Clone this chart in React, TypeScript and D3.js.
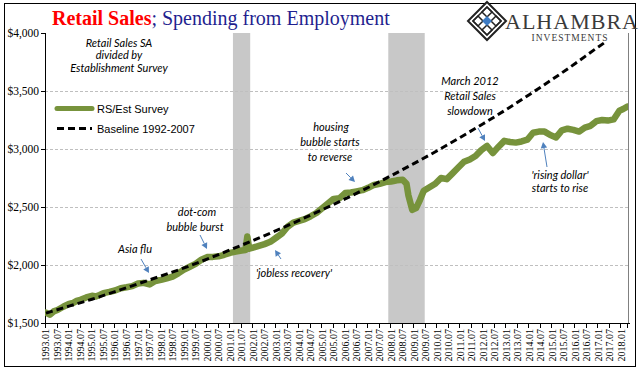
import React from "react";
import * as d3 from "d3";

// ---------- DATA ----------
const firstMonth = "1993.01";
const lastMonth = "2018.04";

const salesDates = [
  "1993.01","1993.03","1993.05","1993.07","1993.10","1994.01","1994.03","1994.05","1994.07","1994.10",
  "1995.01","1995.03","1995.05","1995.07","1995.10","1996.01","1996.04","1996.07","1996.10",
  "1997.01","1997.04","1997.07","1997.10","1998.01","1998.04","1998.07","1998.10",
  "1999.01","1999.04","1999.07","1999.10","2000.01","2000.04","2000.07","2000.10",
  "2001.01","2001.04","2001.07","2001.09","2001.10","2001.11","2002.01","2002.04",
  "2002.07","2002.10","2003.01","2003.04","2003.07","2003.10","2004.01","2004.04",
  "2004.07","2004.10","2005.01","2005.04","2005.07","2005.10","2006.01","2006.04",
  "2006.07","2006.10","2007.01","2007.04","2007.07","2007.10","2008.01","2008.04",
  "2008.07","2008.09","2008.10","2008.12","2009.02","2009.04","2009.06","2009.09",
  "2009.12","2010.03","2010.06","2010.09","2010.12","2011.03","2011.06","2011.09",
  "2011.12","2012.03","2012.06","2012.09","2012.12","2013.03","2013.06","2013.09",
  "2013.12","2014.03","2014.06","2014.09","2014.12","2015.03","2015.06","2015.09",
  "2015.12","2016.03","2016.06","2016.09","2016.12","2017.03","2017.06","2017.09",
  "2017.12","2018.02","2018.04"
];
const salesValues = [
  1590,1572,1600,1612,1640,1665,1672,1690,1700,1720,
  1735,1728,1742,1758,1768,1780,1800,1808,1818,
  1840,1846,1832,1862,1872,1885,1900,1928,
  1960,1985,2010,2045,2068,2070,2075,2088,
  2105,2115,2125,2130,2245,2140,2150,2165,
  2180,2200,2235,2270,2330,2365,2380,2395,
  2420,2448,2490,2530,2570,2575,2620,2625,
  2635,2645,2665,2690,2700,2715,2720,2730,
  2735,2700,2600,2475,2490,2560,2640,2670,
  2700,2750,2740,2790,2840,2890,2910,2940,
  2990,3026,2965,3020,3070,3060,3055,3065,
  3080,3140,3150,3150,3120,3100,3160,3175,
  3165,3150,3185,3200,3240,3250,3245,3255,
  3330,3345,3365
];

const baselineDates = [
  "1993.01","1994.01","1995.01","1996.01","1997.01","1998.01","1999.01","2000.01",
  "2001.01","2002.01","2003.01","2004.01","2005.01","2006.01","2007.01","2008.01",
  "2009.01","2010.01","2011.01","2012.01","2013.01","2014.01","2015.01","2016.01",
  "2017.01","2017.05"
];
const baselineValues = [
  1585,1645,1705,1770,1838,1905,1975,2050,
  2130,2212,2296,2385,2476,2570,2668,2770,
  2876,2985,3100,3218,3340,3468,3600,3737,
  3880,3925
];

const recessionStarts = ["2001.03", "2007.12"];
const recessionEnds = ["2001.11", "2009.06"];

const yTicks = [1500, 2000, 2500, 3000, 3500, 4000];
const gridValues = [2000, 2500, 3000, 3500];

const xTickLabels = [
  "1993.01","1993.07","1994.01","1994.07","1995.01","1995.07","1996.01","1996.07",
  "1997.01","1997.07","1998.01","1998.07","1999.01","1999.07","2000.01","2000.07",
  "2001.01","2001.07","2002.01","2002.07","2003.01","2003.07","2004.01","2004.07",
  "2005.01","2005.07","2006.01","2006.07","2007.01","2007.07","2008.01","2008.07",
  "2009.01","2009.07","2010.01","2010.07","2011.01","2011.07","2012.01","2012.07",
  "2013.01","2013.07","2014.01","2014.07","2015.01","2015.07","2016.01","2016.07",
  "2017.01","2017.07","2018.01"
];

// ---------- HELPERS ----------
const monthIndex = (s: string) => {
  const [yy, m] = s.split(".").map(Number);
  const [y0, m0] = firstMonth.split(".").map(Number);
  return (yy - y0) * 12 + (m - m0);
};

const W = 641, H = 375;
const plotLeft = 45, plotRight = 628, plotTop = 33, plotBottom = 323;
const nCats = monthIndex(lastMonth) + 1;

const x = d3.scaleLinear().domain([0, nCats]).range([plotLeft, plotRight]);
const y = d3.scaleLinear().domain([1500, 4000]).range([plotBottom, plotTop]);
const cx = (s: string) => x(monthIndex(s) + 0.5);

const salesLine = d3.line<number>()
  .x((_, i) => cx(salesDates[i]))
  .y((v) => y(v))
  .curve(d3.curveLinear);

const baseLine = d3.line<number>()
  .x((_, i) => cx(baselineDates[i]))
  .y((v) => y(v))
  .curve(d3.curveMonotoneX);

const fmt = (v: number) => "$" + d3.format(",")(v);

const annoFont = "Lato, 'Open Sans', sans-serif";
const arrowColor = "#4F81BD";

type Arrow = { x1: number; y1: number; x2: number; y2: number };
const arrows: Arrow[] = [
  { x1: 141, y1: 259, x2: 149, y2: 273 },
  { x1: 200, y1: 235, x2: 207, y2: 249 },
  { x1: 281, y1: 259, x2: 275, y2: 250 },
  { x1: 346, y1: 173, x2: 355, y2: 182 },
  { x1: 478, y1: 128, x2: 485, y2: 141 },
  { x1: 547, y1: 167, x2: 543, y2: 142 },
];

function ArrowMark({ a }: { a: Arrow }) {
  const ang = Math.atan2(a.y2 - a.y1, a.x2 - a.x1);
  const L = 6, Wd = 3.2;
  const bx = a.x2 - L * Math.cos(ang), by = a.y2 - L * Math.sin(ang);
  const px = -Math.sin(ang) * Wd, py = Math.cos(ang) * Wd;
  return (
    <g>
      <line x1={a.x1} y1={a.y1} x2={bx} y2={by} stroke={arrowColor} strokeWidth={1} />
      <path d={`M${a.x2},${a.y2} L${bx + px},${by + py} L${bx - px},${by - py} Z`} fill={arrowColor} />
    </g>
  );
}

function Logo() {
  const cx0 = 487, cy0 = 21;
  const r = 19;
  const d = (s: number, dx = 0, dy = 0) =>
    `M${cx0 + dx},${cy0 + dy - s} L${cx0 + dx + s},${cy0 + dy} L${cx0 + dx},${cy0 + dy + s} L${cx0 + dx - s},${cy0 + dy} Z`;
  return (
    <g>
      <path d={d(r)} fill="white" stroke="#222" strokeWidth={2} />
      <path d={d(r - 5)} fill="none" stroke="#222" strokeWidth={1.5} />
      <path d={d(5, 0, -9)} fill="none" stroke="#222" strokeWidth={1.5} />
      <path d={d(5, 0, 9)} fill="none" stroke="#222" strokeWidth={1.5} />
      <path d={d(5, -9, 0)} fill="none" stroke="#222" strokeWidth={1.5} />
      <path d={d(5, 9, 0)} fill="none" stroke="#222" strokeWidth={1.5} />
      <path d={d(5)} fill="#3E7CC4" stroke="none" />
      <text x={572} y={29} fontFamily="'Liberation Serif', serif" fontSize={22} fill="#3a3a3a"
        textAnchor="middle" letterSpacing={1}>ALHAMBRA</text>
      <text x={570} y={41} fontFamily="'Liberation Serif', serif" fontSize={9.5} fill="#3a3a3a"
        textAnchor="middle" letterSpacing={1}>INVESTMENTS</text>
    </g>
  );
}

export default function App() {
  return (
    <svg width={W} height={H} style={{ display: "block", position: "absolute", left: 0, top: 0 }}>
      <rect x={0} y={0} width={W} height={H} fill="white" />
      <defs>
        <clipPath id="plotClip">
          <rect x={plotLeft} y={plotTop} width={plotRight - plotLeft} height={plotBottom - plotTop} />
        </clipPath>
      </defs>

      {/* outer frame */}
      <rect x={4.5} y={3.5} width={631} height={363} fill="none" stroke="#000" strokeWidth={1} />

      {/* title */}
      <text x={52} y={25} fontFamily="'Liberation Serif', 'Times New Roman', serif" fontSize={20}>
        <tspan fill="#FF0000" fontWeight="bold">Retail Sales</tspan>
        <tspan fill="#1F1F8F">; Spending from Employment</tspan>
      </text>

      {/* recession shading */}
      {recessionStarts.map((s, i) => (
        <rect key={s} x={x(monthIndex(s))} y={plotTop}
          width={x(monthIndex(recessionEnds[i]) + 1) - x(monthIndex(s))}
          height={plotBottom - plotTop} fill="#C8C8C8" />
      ))}

      {/* gridlines */}
      {gridValues.map((v) => (
        <line key={v} x1={plotLeft} x2={plotRight} y1={y(v) + 0.5} y2={y(v) + 0.5}
          stroke="#BFBFBF" strokeWidth={1} strokeDasharray="3,2" />
      ))}

      {/* plot right border */}
      <line x1={plotRight + 0.5} x2={plotRight + 0.5} y1={plotTop} y2={plotBottom} stroke="#808080" strokeWidth={1} />

      {/* y axis */}
      <line x1={plotLeft + 0.5} x2={plotLeft + 0.5} y1={plotTop} y2={plotBottom} stroke="#000" />
      {yTicks.map((v) => (
        <g key={v}>
          <line x1={plotLeft - 4} x2={plotLeft} y1={y(v) + 0.5} y2={y(v) + 0.5} stroke="#000" />
          <text x={plotLeft - 6} y={y(v) + 4} textAnchor="end"
            fontFamily="'Liberation Serif', serif" fontSize={11.5} fill="#000">{fmt(v)}</text>
        </g>
      ))}

      {/* x axis */}
      <line x1={plotLeft} x2={plotRight + 2} y1={plotBottom + 0.5} y2={plotBottom + 0.5} stroke="#000" />
      {xTickLabels.map((lab) => {
        const tx = Math.round(x(monthIndex(lab))) + 0.5;
        const lx = cx(lab);
        return (
          <g key={lab}>
            <line x1={tx} x2={tx} y1={plotBottom} y2={plotBottom + 5} stroke="#000" />
            <text transform={`translate(${lx + 3.5},${plotBottom + 6}) rotate(-90)`} textAnchor="end"
              fontFamily="'Liberation Serif', serif" fontSize={10} fill="#000">{lab}</text>
          </g>
        );
      })}
      <line x1={Math.round(x(monthIndex(lastMonth) + 1)) - 0.5} x2={Math.round(x(monthIndex(lastMonth) + 1)) - 0.5}
        y1={plotBottom} y2={plotBottom + 5} stroke="#000" />

      {/* series */}
      <g clipPath="url(#plotClip)">
        <path d={salesLine(salesValues) || ""} fill="none" stroke="#77933C" strokeWidth={6.5}
          strokeLinejoin="round" strokeLinecap="round" />
        <path d={baseLine(baselineValues) || ""} fill="none" stroke="#000" strokeWidth={3}
          strokeDasharray="7,4" />
      </g>

      {/* legend */}
      <line x1={57} x2={92} y1={108.5} y2={108.5} stroke="#77933C" strokeWidth={5} strokeLinecap="round" />
      <text x={97} y={112.5} fontFamily="'Liberation Sans', Arial, sans-serif" fontSize={11} fill="#000">RS/Est Survey</text>
      <line x1={57} x2={92} y1={128.5} y2={128.5} stroke="#000" strokeWidth={3} strokeDasharray="7,4" />
      <text x={97} y={132.5} fontFamily="'Liberation Sans', Arial, sans-serif" fontSize={11} fill="#000">Baseline 1992-2007</text>

      {/* annotations */}
      <g fontFamily={annoFont} fontStyle="italic" fontSize={11} fill="#000" textAnchor="middle">
        <text x={119} y={46.5}>Retail Sales SA</text>
        <text x={119} y={58.5}>divided by</text>
        <text x={119} y={71.5}>Establishment Survey</text>

        <text x={135} y={253}>Asia flu</text>

        <text x={197} y={215.5}>dot-com</text>
        <text x={195} y={231}>bubble burst</text>

        <text x={294} y={277}>'jobless recovery'</text>

        <text x={331} y={130.5}>housing</text>
        <text x={330} y={145.5}>bubble starts</text>
        <text x={330} y={160.5}>to reverse</text>

        <text x={470} y={85}>March 2012</text>
        <text x={470} y={100}>Retail Sales</text>
        <text x={470} y={115}>slowdown</text>

        <text x={560} y={179}>'rising dollar'</text>
        <text x={560} y={192}>starts to rise</text>
      </g>
      {arrows.map((a, i) => <ArrowMark key={i} a={a} />)}

      <Logo />
    </svg>
  );
}
